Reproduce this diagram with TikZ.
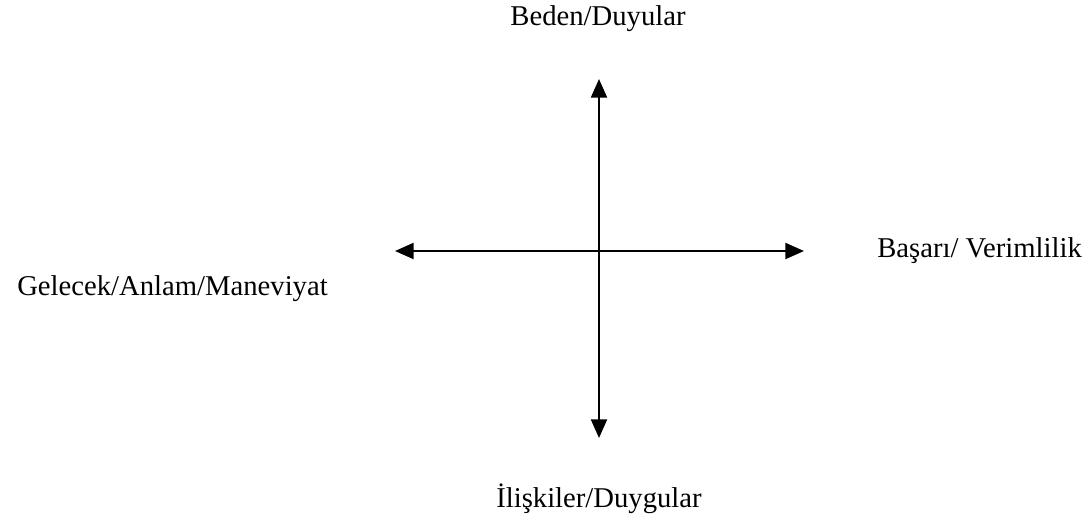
\documentclass[tikz,border=0pt]{standalone}
\usepackage{fontspec}
\setmainfont{Liberation Serif}
\usetikzlibrary{arrows.meta}
\begin{document}
\begin{tikzpicture}[x=0.75pt,y=-0.75pt,
  axis/.style={line width=1.6pt,{Triangle[length=14pt,width=12pt]}-{Triangle[length=14pt,width=12pt]}},
  lbl/.style={font=\fontsize{21.5}{26}\selectfont,inner sep=0pt}]
\useasboundingbox (0,0) rectangle (1090,522);
\coordinate (top) at (599,79);
\coordinate (bottom) at (599,438);
\coordinate (left) at (395,251);
\coordinate (right) at (804,251);
\draw[axis] (bottom) -- (top);
\draw[axis] (left) -- (right);
\node[lbl] (n) at (598,19) {Beden/Duyular};
\node[lbl,anchor=west] (e) at (877,251) {Başarı/ Verimlilik};
\node[lbl,anchor=west] (w) at (17,289) {Gelecek/Anlam/Maneviyat};
\node[lbl] (s) at (599,499) {İlişkiler/Duygular};
\end{tikzpicture}
\end{document}
